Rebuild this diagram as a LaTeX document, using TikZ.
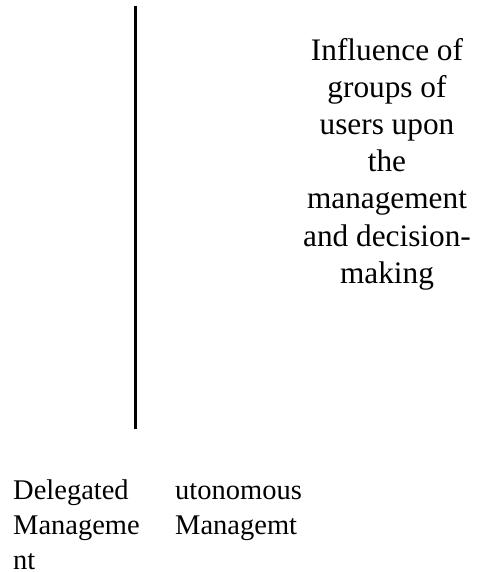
\documentclass[tikz,border=0pt]{standalone}
\usepackage{fontspec}
\setmainfont{Liberation Serif}
\usetikzlibrary{positioning}

\begin{document}
\begin{tikzpicture}[x = 1pt, y = 1pt,
	bigtext/.style = {inner sep = 0, align = center, font = \fontsize{31.3}{37.2}\selectfont},
	smalltext/.style = {inner sep = 0, align = left, font = \fontsize{28.5}{35}\selectfont}]
	
	\useasboundingbox (0, 0) rectangle (486, -572);
	
	% The bar
	
	\coordinate (bartop) at (135.5, -6);
	\coordinate (barbottom) at (135.5, -429);
	\draw [line width = 3pt] (bartop) -- (barbottom);

	% Texts (anchored at the baseline of their last line)
	
	\node [bigtext, anchor = base] (influence) at (387, -283.3)
		{Influence of\\groups of\\users upon\\the\\management\\and decision-\\making};
	
	\node [smalltext, anchor = base west] (delegated) at (13, -569)
		{Delegated\\Manageme\\nt};
	\node [smalltext, anchor = base west] (autonomous) at (175, -534)
		{utonomous\\Managemt};

\end{tikzpicture}
\end{document}
